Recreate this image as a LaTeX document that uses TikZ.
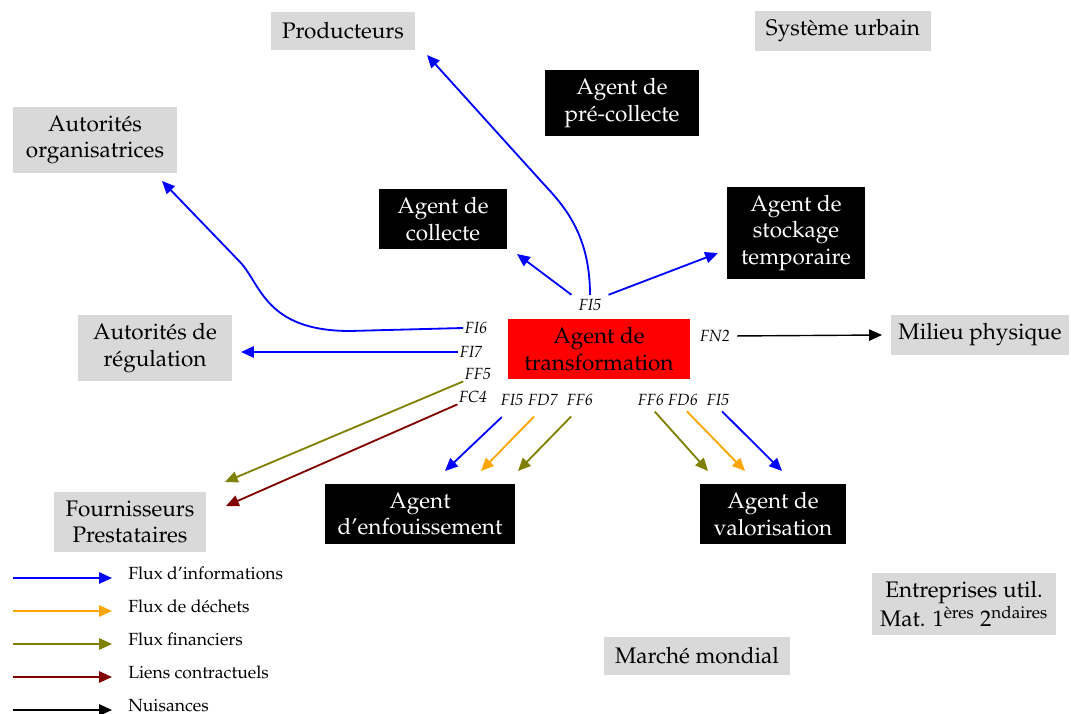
\documentclass[tikz,border=0pt]{standalone}
\usepackage[T1]{fontenc}
\usepackage{mathpazo}
\usetikzlibrary{arrows.meta}

\definecolor{boxgray}{RGB}{217,217,217}
\definecolor{fluxorange}{RGB}{255,165,0}
\definecolor{fluxolive}{RGB}{128,128,0}
\definecolor{fluxred}{RGB}{128,0,0}

\begin{document}
\begin{tikzpicture}[x=0.025cm,y=-0.025cm]
\tikzset{
  actorbox/.style={fill=boxgray,align=center,inner xsep=8pt,inner ysep=6pt,minimum height=0.95cm,font=\fontsize{16}{19}\selectfont},
  agentbox/.style={actorbox,fill=black,text=white,inner xsep=10pt},
  mainbox/.style={actorbox,fill=red,text=black,inner xsep=12pt},
  fluxlabel/.style={font=\fontsize{11.5}{14}\selectfont\itshape,inner sep=1pt},
  flux/.style={line width=1.3pt,line join=round,-{Triangle[length=3.2mm,width=2.8mm]}},
  fluxinfo/.style={flux,draw=blue},
  fluxdechet/.style={flux,draw=fluxorange},
  fluxfin/.style={flux,draw=fluxolive},
  fluxcontrat/.style={flux,draw=fluxred},
  nuisance/.style={flux,line width=1pt,draw=black},
  legendtext/.style={font=\fontsize{12.5}{15}\selectfont,anchor=base west,inner sep=0pt}
}
\useasboundingbox (0,0) rectangle (1071,714);

% acteurs
\node[actorbox] (n_prod) at (343,31) {Producteurs};
\node[actorbox] (n_urbain) at (843,31) {Syst\`eme urbain};
\node[actorbox,inner xsep=9pt] (n_autorg) at (95,140) {Autorit\'es\\organisatrices};
\node[actorbox,inner xsep=10.5pt] (n_autreg) at (155,348) {Autorit\'es de\\r\'egulation};
\node[actorbox,inner xsep=5pt] (n_milieu) at (980,335) {Milieu physique};
\node[actorbox] (n_fourn) at (130,522) {Fournisseurs\\Prestataires};
\node[actorbox,inner xsep=6pt] (n_entr) at (964,604) {Entreprises util.\\Mat. 1\textsuperscript{\`eres} 2\textsuperscript{ndaires}};
\node[actorbox] (n_marche) at (697,656) {March\'e mondial};

% agents
\node[agentbox,inner xsep=14pt] (n_precoll) at (622,103) {Agent de\\pr\'e-collecte};
\node[agentbox,inner xsep=13pt] (n_coll) at (443,219) {Agent de\\collecte};
\node[agentbox] (n_stock) at (796,233) {Agent de\\stockage\\temporaire};
\node[agentbox,inner xsep=9pt] (n_enf) at (420,514) {Agent\\d'enfouissement};
\node[agentbox] (n_valo) at (773,514) {Agent de\\valorisation};
\node[mainbox] (n_transf) at (599,349) {Agent de\\transformation};

% etiquettes des flux
\node[fluxlabel,fill=white,inner xsep=5pt,inner ysep=3pt] (l_fi5t) at (590,305) {FI5};
\node[fluxlabel] (l_fi6) at (476,328) {FI6};
\node[fluxlabel] (l_fi7) at (471,352) {FI7};
\node[fluxlabel] (l_ff5) at (478,374) {FF5};
\node[fluxlabel] (l_fc4) at (473,397) {FC4};
\node[fluxlabel] (l_fi5g) at (512,400) {FI5};
\node[fluxlabel] (l_fd7) at (543,400) {FD7};
\node[fluxlabel] (l_ff6g) at (580,400) {FF6};
\node[fluxlabel] (l_ff6d) at (651,400) {FF6};
\node[fluxlabel] (l_fd6) at (683,400) {FD6};
\node[fluxlabel] (l_fi5d) at (718,400) {FI5};
\node[fluxlabel] (l_fn2) at (715,336) {FN2};

% extremites libres
\coordinate (e_prod) at (427,55);
\coordinate (e_coll) at (517,254);
\coordinate (e_stock) at (718,253);
\coordinate (e_autorg) at (162,181);
\coordinate (e_autreg) at (241,352);
\coordinate (e_ff5) at (225,482);
\coordinate (e_fc4) at (226,506);
\coordinate (e_fi5g) at (445,471);
\coordinate (e_fd7) at (481,471);
\coordinate (e_ff6g) at (518,471);
\coordinate (e_ff6d) at (708,471);
\coordinate (e_fd6) at (745,471);
\coordinate (e_fi5d) at (782,471);
\coordinate (e_milieu) at (882,335);

% flux
\draw[fluxinfo] (l_fi5t.north west) -- (e_coll);
\draw[fluxinfo] (l_fi5t.north east) -- (e_stock);
\draw[fluxinfo] (l_fi5t.north) .. controls (590,230) and (560,202) .. (540,180) -- (e_prod);
\draw[fluxinfo] (l_fi6.west) -- (350,331) .. controls (265,331) and (261,284) .. (240,262) -- (e_autorg);
\draw[fluxinfo] (l_fi7.west) -- (e_autreg);
\draw[fluxfin] (l_ff5.south west) -- (e_ff5);
\draw[fluxcontrat] (l_fc4.south west) -- (e_fc4);
\draw[fluxinfo,shorten <=10pt] (l_fi5g.south) -- (e_fi5g);
\draw[fluxdechet,shorten <=9pt] (l_fd7.south) -- (e_fd7);
\draw[fluxfin,shorten <=9pt] (l_ff6g.south) -- (e_ff6g);
\draw[fluxfin,shorten <=4pt] (l_ff6d.south) -- (e_ff6d);
\draw[fluxdechet,shorten <=4pt] (l_fd6.south) -- (e_fd6);
\draw[fluxinfo,shorten <=4pt] (l_fi5d.south) -- (e_fi5d);
\draw[nuisance,shorten <=4pt] (l_fn2.east) -- (e_milieu);

% legende
\foreach \c/\t [count=\i] in {blue/Flux d'informations,fluxorange/Flux de d\'echets,fluxolive/Flux financiers,fluxred/Liens contractuels,black/Nuisances}{
  \coordinate (g\i a) at (13,545+33*\i);
  \coordinate (g\i b) at (112,545+33*\i);
  \node[legendtext] (g\i) at (128,546+33*\i) {\t};
  \draw[flux,draw=\c] (g\i a) -- (g\i b);
}
\end{tikzpicture}
\end{document}
